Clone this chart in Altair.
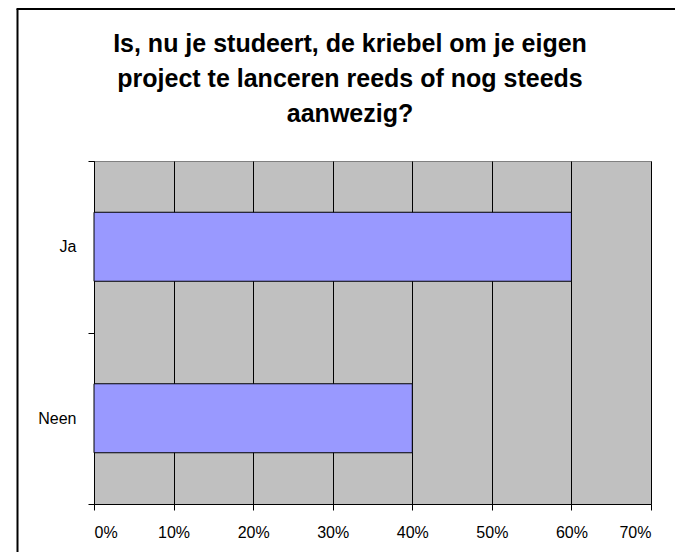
import altair as alt
import pandas as pd

categories = ["Ja", "Neen"]
shares = [0.60, 0.40]
x_ticks = [0.0, 0.1, 0.2, 0.3, 0.4, 0.5, 0.6, 0.7]
title_lines = [
    "Is, nu je studeert, de kriebel om je eigen",
    "project te lanceren reeds of nog steeds",
    "aanwezig?",
]

df = pd.DataFrame({"category": categories, "share": shares})

FONT = "Liberation Sans"

bars = alt.Chart(df).mark_bar(
    size=69, color="#9999FF", stroke="black", strokeWidth=1
).encode(
    x=alt.X(
        "share:Q",
        scale=alt.Scale(domain=[0, 0.7], nice=False, zero=True),
        axis=alt.Axis(
            title=None,
            values=x_ticks,
            format=".0%",
            grid=True,
            gridColor="black",
            gridWidth=1,
            gridOpacity=1,
            domainColor="black",
            tickColor="black",
            tickSize=6,
            labelPadding=14,
            labelFont=FONT,
            labelFontSize=16,
            labelColor="black",
        ),
    ),
    y=alt.Y(
        "category:N",
        sort=categories,
        scale=alt.Scale(paddingInner=0, paddingOuter=0),
        axis=alt.Axis(
            title=None,
            tickBand="extent",
            grid=False,
            domainColor="black",
            tickColor="black",
            tickSize=6,
            labelPadding=12,
            labelFont=FONT,
            labelFontSize=16,
            labelColor="black",
        ),
    ),
)

one_row = alt.InlineData(values=[{"k": 1}])
frame_left = alt.Chart(one_row).mark_rule(color="black", strokeWidth=2).encode(
    x=alt.value(-76.5), y=alt.value(-152), y2=alt.value(400)
)
frame_top = alt.Chart(one_row).mark_rule(color="black", strokeWidth=2).encode(
    x=alt.value(-77.5), x2=alt.value(590), y=alt.value(-152)
)
title = alt.Chart(one_row).mark_text(
    text=title_lines,
    font=FONT,
    fontSize=25,
    fontWeight="bold",
    color="black",
    lineHeight=35,
    align="center",
    baseline="alphabetic",
).encode(x=alt.value(256), y=alt.value(-109))

chart = alt.layer(bars, frame_left, frame_top, title).properties(
    width=557,
    height=343,
    autosize=alt.AutoSizeParams(type="none"),
    padding={"left": 86, "top": 153, "right": 24, "bottom": 48},
    background="white",
).configure_view(
    fill="#C0C0C0", stroke="#808080", strokeWidth=1
)

chart.save("out.html", embed_options={"renderer": "svg", "actions": False})
